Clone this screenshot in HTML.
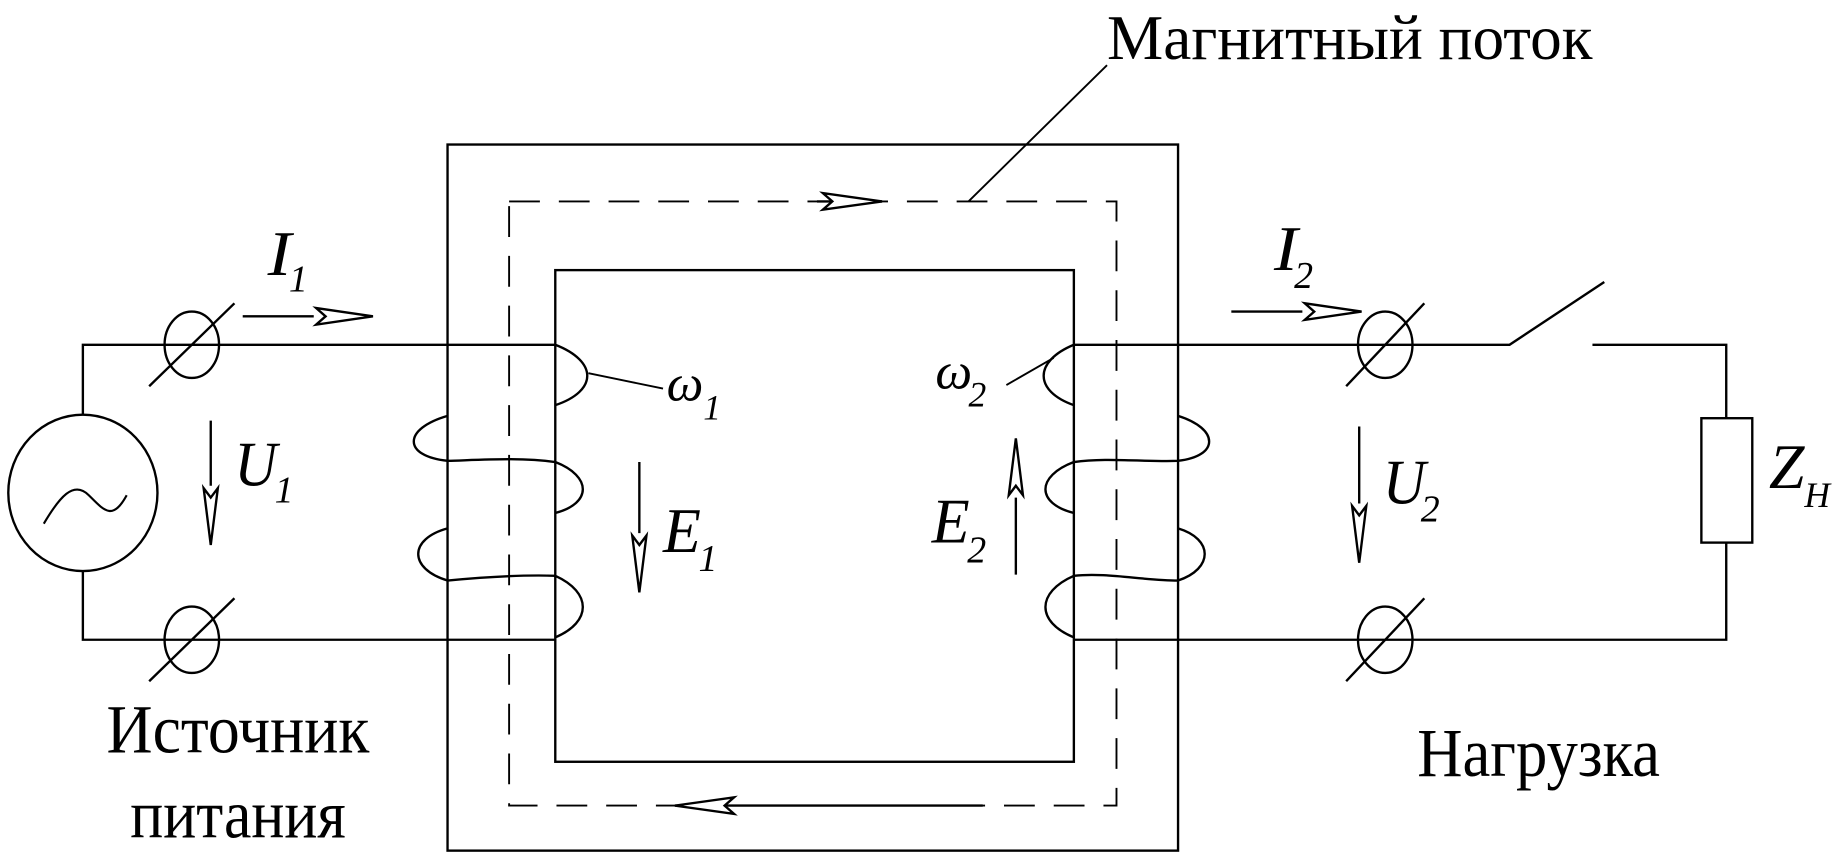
<!DOCTYPE html>
<html><head><meta charset="utf-8"><style>
html,body{margin:0;padding:0;background:#fff;}
svg{display:block}
text{font-family:"Liberation Serif",serif;fill:#000}
.i{font-style:italic}
</style></head><body>
<svg width="1847" height="853" viewBox="0 0 1560 720" preserveAspectRatio="none" xmlns="http://www.w3.org/2000/svg">
<g fill="none" stroke="#000" stroke-width="2">
<rect x="378" y="122" width="617" height="596"/>
<rect x="469" y="228" width="438" height="415"/>
<rect x="430" y="170" width="513" height="510" stroke-dasharray="26,16" stroke-width="1.6"/>
<line x1="690" y1="170" x2="745" y2="170"/>
<polygon points="745,170 695,163 703,170 695,177" fill="#fff"/>
<line x1="570" y1="680" x2="830" y2="680"/>
<polygon points="570,680 620,673 612,680 620,687" fill="#fff"/>
<line x1="818" y1="170" x2="935" y2="55" stroke-width="1.6"/>
<polyline points="469,291 70,291 70,350"/>
<polyline points="70,482 70,540 469,540"/>
<ellipse cx="70" cy="416" rx="63" ry="66"/>
<path d="M37,442 C50,420 62,405 75,418 S95,440 107,418" stroke-width="1.8"/>
<ellipse cx="162" cy="291" rx="23" ry="28"/>
<line x1="126" y1="326" x2="198" y2="256"/>
<ellipse cx="162" cy="540" rx="23" ry="28"/>
<line x1="126" y1="575" x2="198" y2="505"/>
<line x1="205" y1="267" x2="265" y2="267"/>
<polygon points="315,267 267,260 275,267 267,274" fill="#fff"/>
<line x1="178" y1="355" x2="178" y2="410"/>
<polygon points="178,460 172,412 178,420 184,412" fill="#fff"/>
<path d="M469,291 C505,305 505,330 469,342"/>
<path d="M378,351 C340,362 340,385 378,389 C410,388 440,386 469,390 C500,402 500,425 469,433"/>
<path d="M378,446 C345,455 345,480 378,490 C410,487 440,485 469,486 C500,500 500,525 469,538"/>
<line x1="497" y1="315" x2="560" y2="328" stroke-width="1.6"/>
<line x1="540" y1="390" x2="540" y2="450"/>
<polygon points="540,500 534,452 540,460 546,452" fill="#fff"/>
<path d="M907,291 C873,305 873,330 907,342"/>
<path d="M995,351 C1030,362 1030,385 995,389 C965,390 935,386 907,390 C875,402 875,425 907,433"/>
<path d="M995,446 C1025,455 1025,480 995,490 C965,490 935,483 907,486 C875,500 875,525 907,538"/>
<line x1="850" y1="325" x2="890" y2="302" stroke-width="1.6"/>
<line x1="858" y1="485" x2="858" y2="420"/>
<polygon points="858,370 852,418 858,410 864,418" fill="#fff"/>
<polyline points="907,291 1275,291 1355,238"/>
<polyline points="1345,291 1458,291 1458,353"/>
<rect x="1437" y="353" width="43" height="105"/>
<polyline points="1458,458 1458,540 907,540"/>
<ellipse cx="1170" cy="291" rx="23" ry="28"/>
<line x1="1137" y1="326" x2="1203" y2="256"/>
<ellipse cx="1170" cy="540" rx="23" ry="28"/>
<line x1="1137" y1="575" x2="1203" y2="505"/>
<line x1="1040" y1="263" x2="1100" y2="263"/>
<polygon points="1150,263 1102,256 1110,263 1102,270" fill="#fff"/>
<line x1="1148" y1="360" x2="1148" y2="425"/>
<polygon points="1148,475 1142,427 1148,435 1154,427" fill="#fff"/>
</g>
<text x="935" y="50" font-size="54" textLength="410" lengthAdjust="spacingAndGlyphs">Магнитный поток</text>
<text x="90" y="635" font-size="58" textLength="222" lengthAdjust="spacingAndGlyphs">Источник</text>
<text x="110" y="707" font-size="58" textLength="182" lengthAdjust="spacingAndGlyphs">питания</text>
<text x="1197" y="655" font-size="58" textLength="205" lengthAdjust="spacingAndGlyphs">Нагрузка</text>
<g>
<text x="226" y="232" font-size="54" class="i" textLength="20" lengthAdjust="spacingAndGlyphs">I</text><text x="244" y="246" font-size="32" class="i">1</text>
<text x="1076" y="228" font-size="54" class="i" textLength="20" lengthAdjust="spacingAndGlyphs">I</text><text x="1093" y="243" font-size="32" class="i">2</text>
<text x="198" y="410" font-size="54" class="i" textLength="36" lengthAdjust="spacingAndGlyphs">U</text><text x="232" y="424" font-size="32" class="i">1</text>
<text x="1168" y="425" font-size="54" class="i" textLength="36" lengthAdjust="spacingAndGlyphs">U</text><text x="1200" y="440" font-size="32" class="i">2</text>
<text x="560" y="466" font-size="54" class="i" textLength="32" lengthAdjust="spacingAndGlyphs">E</text><text x="590" y="482" font-size="32" class="i">1</text>
<text x="787" y="458" font-size="54" class="i" textLength="32" lengthAdjust="spacingAndGlyphs">E</text><text x="817" y="475" font-size="32" class="i">2</text>
<text x="1494" y="412" font-size="54" class="i" textLength="30" lengthAdjust="spacingAndGlyphs">Z</text><text x="1524" y="428" font-size="30" class="i">H</text>
<text x="563" y="338" font-size="44" class="i">ω</text><text x="594" y="354" font-size="30" class="i">1</text>
<text x="790" y="328" font-size="44" class="i">ω</text><text x="818" y="343" font-size="30" class="i">2</text>
</g>
</svg>
</body></html>
